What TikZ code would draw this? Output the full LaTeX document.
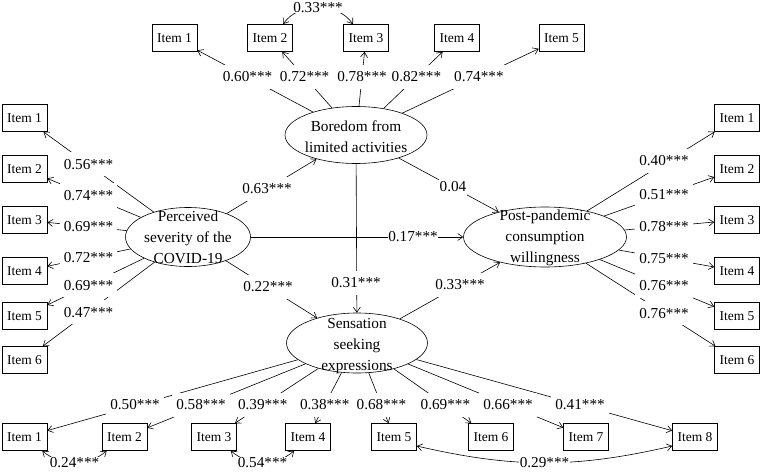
\documentclass[tikz,border=0pt]{standalone}
\usepackage{fontspec}
\setmainfont{Liberation Serif}
\usetikzlibrary{arrows.meta,shapes.geometric}
\begin{document}
\begin{tikzpicture}[x=1pt,y=1pt,
  box/.style={draw, line width=0.6pt, minimum width=45pt, minimum height=27pt, inner sep=0pt, font=\fontsize{13.5}{15}\selectfont},
  lat/.style={draw, ellipse, line width=0.6pt, inner sep=0pt},
  lattext/.style={align=center, inner sep=0pt, font=\fontsize{15.3}{20.8}\selectfont},
  lab/.style={fill=white, inner xsep=4pt, inner ysep=7pt, font=\fontsize{15.2}{16}\selectfont},
  labt/.style={fill=white, inner sep=0.5pt, font=\fontsize{15.2}{16}\selectfont},
  arr/.style={-{Straight Barb[length=5pt,width=7pt]}, line width=0.6pt},
  cov/.style={{Straight Barb[length=5pt,width=7pt]}-{Straight Barb[length=5pt,width=7pt]}, line width=0.6pt},
]
\useasboundingbox (0,0) rectangle (760,-471);

% latent variables
\node[lat, minimum width=142pt, minimum height=57pt] (bore) at (356,-135) {};
\node[lattext] (boret) at (356,-136.5) {Boredom from\\limited activities};
\node[lat, minimum width=125pt, minimum height=59pt] (perc) at (188,-237) {};
\node[lattext] (perct) at (188,-237.5) {Perceived\\severity of the\\COVID-19};
\node[lat, minimum width=163pt, minimum height=60pt] (post) at (545,-237) {};
\node[lattext] (postt) at (545,-238) {Post-pandemic\\consumption\\willingness};
\node[lat, minimum width=141pt, minimum height=60pt] (sens) at (357,-343) {};
\node[lattext] (senst) at (357,-346) {Sensation\\seeking\\expressions};

% indicator boxes
\node[box] (t1) at (174.5,-38) {Item 1};
\node[box] (t2) at (270,-38) {Item 2};
\node[box] (t3) at (366,-38) {Item 3};
\node[box] (t4) at (457,-38) {Item 4};
\node[box] (t5) at (561.5,-38) {Item 5};

\node[box] (l1) at (24.5,-118) {Item 1};
\node[box] (l2) at (24.5,-169) {Item 2};
\node[box] (l3) at (24.5,-220) {Item 3};
\node[box] (l4) at (24.5,-271) {Item 4};
\node[box] (l5) at (24.5,-316) {Item 5};
\node[box] (l6) at (24.5,-360) {Item 6};

\node[box] (r1) at (737,-118) {Item 1};
\node[box] (r2) at (737,-169) {Item 2};
\node[box] (r3) at (737,-220) {Item 3};
\node[box] (r4) at (737,-271) {Item 4};
\node[box] (r5) at (737,-316) {Item 5};
\node[box] (r6) at (737,-360) {Item 6};

\node[box] (b1) at (24.5,-437) {Item 1};
\node[box] (b2) at (124.5,-437) {Item 2};
\node[box] (b3) at (214,-437) {Item 3};
\node[box] (b4) at (308,-437) {Item 4};
\node[box] (b5) at (394,-437) {Item 5};
\node[box] (b6) at (491,-437) {Item 6};
\node[box] (b7) at (586,-437) {Item 7};
\node[box] (b8) at (695,-437) {Item 8};

% loadings
\foreach \i in {1,...,5} \draw[arr] (bore) -- (t\i);
\foreach \i in {1,...,6} \draw[arr] (perc) -- (l\i);
\foreach \i in {1,...,6} \draw[arr] (post) -- (r\i);
\foreach \i in {1,...,8} \draw[arr] (sens) -- (b\i);

% structural paths
\draw[arr] (perc) -- (bore);
\draw[arr] (bore) -- (post);
\draw[arr] (perc) -- (post);
\draw[arr] (bore) -- (sens);
\draw[arr] (perc) -- (sens);
\draw[arr] (sens) -- (post);

% covariances
\draw[cov] ([xshift=13pt]t2.north) to[bend left=55] node[labt] (c1) {0.33***} ([xshift=-13pt]t3.north);
\draw[cov] ([xshift=-5pt]b1.south east) to[bend right=40] node[labt] (c2) {0.24***} ([xshift=5pt]b2.south west);
\draw[cov] ([xshift=-6pt]b3.south east) to[bend right=40] node[labt] (c3) {0.54***} ([xshift=9pt]b4.south west);
\draw[cov] ([yshift=-9pt]b5.east) to[bend right=13] node[labt] (c4) {0.29***} ([yshift=-9pt]b8.west);

% labels: top
\node[lab] (nt1) at (247.5,-77) {0.60***};
\node[lab] (nt2) at (304.6,-77) {0.72***};
\node[lab] (nt3) at (362,-77) {0.78***};
\node[lab] (nt4) at (416.4,-77) {0.82***};
\node[lab] (nt5) at (478.9,-77) {0.74***};
% left
\node[lab] (nl1) at (88.5,-164.2) {0.56***};
\node[lab] (nl2) at (88.5,-195.4) {0.74***};
\node[lab] (nl3) at (88.5,-226.6) {0.69***};
\node[lab] (nl4) at (88.5,-257.8) {0.72***};
\node[lab] (nl5) at (88.5,-285.3) {0.69***};
\node[lab] (nl6) at (88.5,-312.2) {0.47***};
% right
\node[lab] (nr1) at (664,-161) {0.40***};
\node[lab] (nr2) at (664,-194.9) {0.51***};
\node[lab] (nr3) at (664,-226.5) {0.78***};
\node[lab] (nr4) at (664,-258.1) {0.75***};
\node[lab] (nr5) at (664,-286) {0.76***};
\node[lab] (nr6) at (664,-313.2) {0.76***};
% bottom
\node[lab] (nb1) at (135,-405) {0.50***};
\node[lab] (nb2) at (201,-405) {0.58***};
\node[lab] (nb3) at (262.7,-405) {0.39***};
\node[lab] (nb4) at (324.7,-405) {0.38***};
\node[lab] (nb5) at (381.4,-405) {0.68***};
\node[lab] (nb6) at (445.4,-405) {0.69***};
\node[lab] (nb7) at (508,-405) {0.66***};
\node[lab] (nb8) at (580,-405) {0.41***};
% structural
\node[lab] (ns1) at (267,-189) {0.63***};
\node[lab, inner xsep=1pt] (ns2) at (453,-187) {0.04};
\node[labt] (ns3) at (413,-237) {0.17***};
\node[lab] (ns4) at (356,-283) {0.31***};
\node[lab] (ns5) at (268,-287) {0.22***};
\node[lab] (ns6) at (460,-285) {0.33***};
\end{tikzpicture}
\end{document}
